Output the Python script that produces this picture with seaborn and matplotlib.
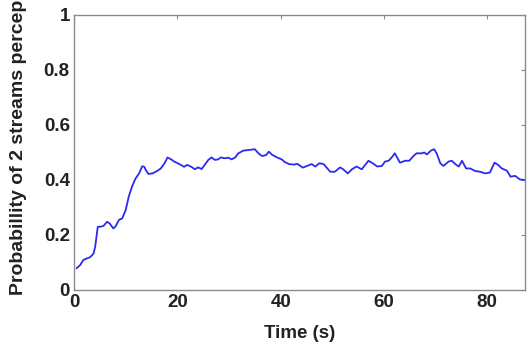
import seaborn as sns
import pandas as pd
import matplotlib.pyplot as plt

# values
time_s = [0.5, 1.2, 1.8, 2.5, 3.1, 3.8, 4.1, 4.6, 5.1, 5.7, 6.4, 6.9, 7.6, 8.0, 8.7,
          9.3, 10.0, 10.6, 11.3, 11.9, 12.6, 13.2, 13.6, 13.9, 14.4, 15.2, 16.2, 16.8,
          17.5, 18.1, 18.8, 19.4, 20.4, 21.3, 21.9, 22.7, 23.4, 24.0, 24.7, 25.3, 26.0,
          26.6, 27.3, 27.9, 28.4, 29.2, 29.9, 30.5, 31.2, 31.8, 32.8, 33.8, 35.0, 35.7,
          36.4, 37.2, 37.7, 38.4, 39.3, 40.2, 40.8, 41.6, 42.6, 43.2, 44.3, 45.1, 46.0,
          46.7, 47.5, 48.3, 49.6, 50.5, 51.5, 52.1, 53.0, 53.8, 54.7, 55.7, 57.0, 57.8,
          58.7, 59.6, 60.2, 60.9, 61.5, 62.1, 63.1, 64.1, 64.9, 65.7, 66.3, 67.3, 67.8,
          68.3, 69.1, 69.7, 70.2, 70.9, 71.5, 72.5, 73.1, 74.0, 74.5, 75.1, 75.9, 76.7,
          77.6, 78.6, 79.6, 80.5, 81.4, 82.1, 82.8, 83.8, 84.5, 85.4, 86.3, 87.3]
prob = [0.079, 0.091, 0.109, 0.115, 0.119, 0.133, 0.158, 0.23, 0.23, 0.233, 0.248, 0.242,
        0.224, 0.23, 0.255, 0.26, 0.29, 0.34, 0.38, 0.405, 0.424, 0.45, 0.448, 0.436,
        0.422, 0.424, 0.434, 0.442, 0.46, 0.482, 0.475, 0.467, 0.458, 0.448, 0.455, 0.448,
        0.439, 0.446, 0.44, 0.455, 0.473, 0.482, 0.473, 0.475, 0.482, 0.479, 0.481, 0.475,
        0.482, 0.497, 0.507, 0.509, 0.512, 0.497, 0.487, 0.491, 0.503, 0.491, 0.482, 0.475,
        0.465, 0.458, 0.456, 0.459, 0.445, 0.451, 0.458, 0.449, 0.461, 0.458, 0.43, 0.43,
        0.446, 0.439, 0.424, 0.439, 0.449, 0.439, 0.47, 0.461, 0.449, 0.451, 0.467, 0.47,
        0.482, 0.497, 0.463, 0.47, 0.47, 0.487, 0.497, 0.497, 0.50, 0.493, 0.507, 0.512,
        0.497, 0.461, 0.451, 0.467, 0.47, 0.455, 0.449, 0.47, 0.442, 0.442, 0.433, 0.43,
        0.424, 0.427, 0.463, 0.455, 0.442, 0.434, 0.412, 0.415, 0.402, 0.40]
x_ticks = [0, 20, 40, 60, 80]
y_ticks = [0, 0.2, 0.4, 0.6, 0.8, 1]
y_tick_labels = ["0", "0.2", "0.4", "0.6", "0.8", "1"]

df = pd.DataFrame({"time": time_s, "prob": prob})

sns.set_style("white")
plt.rcParams['font.family'] = ['Liberation Sans', 'DejaVu Sans']
plt.rcParams['font.weight'] = 'bold'

fig = plt.figure(figsize=(5.31, 3.64), dpi=100)
ax = fig.add_axes([0.1394, 0.2033, 0.8493, 0.7555])

sns.lineplot(data=df, x="time", y="prob", ax=ax, color="#2a2af2", linewidth=1.3)

ax.set_xlim(0, 87.3)
ax.set_ylim(0, 1)
ax.set_xticks(x_ticks)
ax.set_yticks(y_ticks)
ax.set_yticklabels(y_tick_labels)
for s in ax.spines.values():
    s.set_visible(True)
    s.set_color("#8a8a8a")
    s.set_linewidth(1.0)
ax.tick_params(direction="in", length=3, width=0.8, color="#8a8a8a",
               top=True, right=True, labelsize=13.5, labelcolor="#222222", pad=3)

ax.set_xlabel("Time (s)", fontsize=13.5, fontweight="bold", color="#222222", labelpad=10)
# the reference label runs off the top edge; keep the part that is visible
ax.set_ylabel("Probabillity of 2 streams percep", fontsize=14, fontweight="bold",
              color="#222222", loc="bottom")
ax.yaxis.set_label_coords(-0.104, -0.02)

plt.savefig("out.png", dpi=100)
